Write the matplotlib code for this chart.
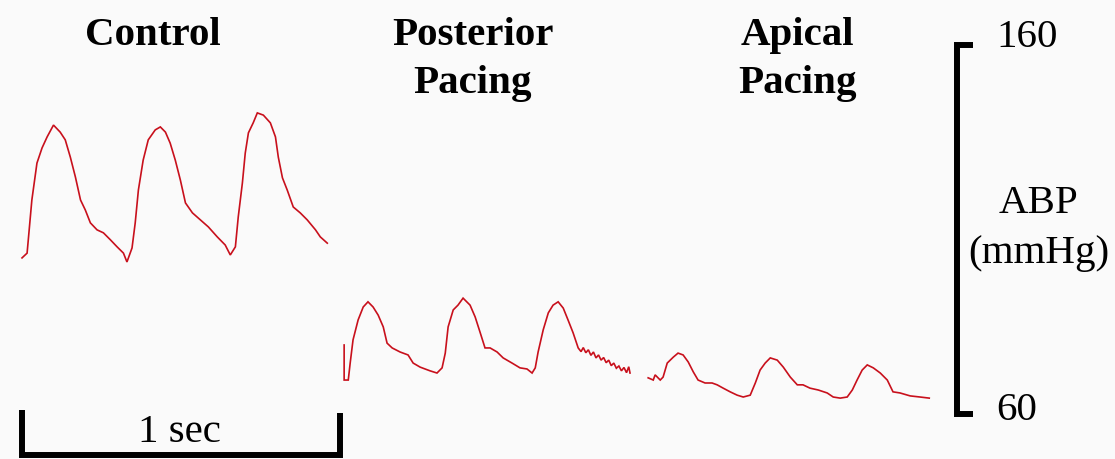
"""Arterial blood pressure traces: control vs posterior / apical pacing."""
import matplotlib
matplotlib.use("Agg")
import matplotlib.pyplot as plt

# ---- data (time in s from the start of each trace, pressure in mmHg) ----
control_t = [0.000, 0.016, 0.031, 0.047, 0.063, 0.079, 0.099, 0.120, 0.136, 0.152,
             0.168, 0.184, 0.199, 0.215, 0.236, 0.256, 0.278, 0.299, 0.319, 0.330,
             0.346, 0.356, 0.366, 0.381, 0.397, 0.419, 0.435, 0.451, 0.466, 0.482,
             0.498, 0.514, 0.536, 0.561, 0.586, 0.614, 0.639, 0.655, 0.671, 0.680,
             0.693, 0.702, 0.712, 0.727, 0.740, 0.759, 0.781, 0.797, 0.806, 0.819,
             0.834, 0.853, 0.875, 0.897, 0.923, 0.938, 0.960]
control_p = [102.3, 103.6, 118.0, 128.0, 132.1, 135.1, 138.3, 136.4, 134.3, 129.6,
             124.2, 118.0, 115.3, 111.8, 109.9, 109.1, 107.2, 105.3, 103.6, 101.2,
             105.0, 111.8, 120.7, 128.8, 134.3, 137.0, 137.8, 136.4, 133.4, 128.8,
             123.4, 117.2, 114.5, 112.6, 110.7, 108.0, 105.8, 103.1, 105.3, 113.4,
             122.6, 130.7, 136.2, 138.9, 141.6, 141.0, 138.9, 135.1, 129.6, 124.0,
             120.7, 116.1, 114.5, 112.6, 109.9, 108.0, 106.3]

posterior_t = [0.000, 0.000, 0.013, 0.019, 0.028, 0.044, 0.060, 0.075, 0.091, 0.107,
               0.123, 0.135, 0.151, 0.176, 0.201, 0.217, 0.239, 0.270, 0.292, 0.308,
               0.318, 0.327, 0.343, 0.358, 0.374, 0.396, 0.412, 0.428, 0.443, 0.459,
               0.481, 0.500, 0.528, 0.553, 0.575, 0.591, 0.601, 0.610, 0.626, 0.642,
               0.657, 0.673, 0.689, 0.704, 0.720, 0.736, 0.745, 0.752, 0.760, 0.768,
               0.776, 0.784, 0.792, 0.800, 0.808, 0.816, 0.824, 0.832, 0.840, 0.848,
               0.856, 0.864, 0.872, 0.880, 0.888, 0.895, 0.899]
posterior_p = [78.7, 69.2, 69.2, 73.8, 80.1, 85.5, 89.0, 90.4, 89.0, 86.8,
               83.6, 79.2, 77.9, 76.8, 76.0, 73.8, 72.7, 71.7, 71.1, 72.5,
               76.5, 83.6, 88.2, 89.5, 91.4, 89.5, 86.3, 82.0, 77.9, 77.9,
               76.8, 75.2, 73.8, 72.5, 72.2, 71.1, 72.5, 76.8, 82.8, 87.4,
               89.5, 90.4, 88.7, 85.5, 82.0, 77.9, 76.9, 78.0, 76.6, 77.4,
               75.9, 76.8, 75.2, 76.0, 74.6, 75.3, 73.9, 74.6, 73.1, 73.8,
               72.4, 73.0, 71.7, 72.6, 71.2, 72.8, 71.1]

apical_t = [0.000, 0.016, 0.022, 0.038, 0.047, 0.060, 0.079, 0.094, 0.110, 0.126,
            0.142, 0.157, 0.179, 0.201, 0.217, 0.236, 0.258, 0.280, 0.299, 0.321,
            0.337, 0.352, 0.368, 0.384, 0.406, 0.425, 0.447, 0.469, 0.487, 0.509,
            0.535, 0.563, 0.582, 0.604, 0.626, 0.642, 0.657, 0.673, 0.689, 0.708,
            0.730, 0.752, 0.770, 0.792, 0.824, 0.855, 0.884]
apical_p = [69.8, 69.2, 70.6, 69.2, 70.0, 73.8, 75.4, 76.5, 76.0, 74.1,
            71.4, 69.2, 68.4, 68.4, 67.9, 67.0, 66.0, 65.1, 64.6, 65.1,
            68.4, 71.9, 73.8, 75.2, 74.6, 72.7, 70.0, 67.9, 67.9, 67.0,
            66.5, 65.7, 64.6, 64.3, 64.6, 66.5, 69.2, 71.9, 73.3, 72.5,
            71.1, 69.2, 66.0, 65.7, 64.9, 64.6, 64.3]

# where each trace starts along the shared time axis (s)
trace_start = [0.0, 1.013, 1.969]
traces = [(control_t, control_p), (posterior_t, posterior_p), (apical_t, apical_p)]
titles = [["Control"], ["Posterior", "Pacing"], ["Apical", "Pacing"]]
title_x = [0.412, 1.418, 2.440]

ABP_MIN, ABP_MAX = 60, 160

RED = "#c8101c"
FONT = "Liberation Serif"
FS = 29.5

fig = plt.figure(figsize=(11.15, 4.59), dpi=100, facecolor="#fafafa")
ax = fig.add_axes([0, 0, 1, 1])
ax.set_facecolor("#fafafa")
ax.set_xlim(-0.0692, 3.4371)
ax.set_ylim(47.8, 172.2)
ax.axis("off")

for (t, p), t0 in zip(traces, trace_start):
    ax.plot([v + t0 for v in t], p, color=RED, lw=1.2, solid_joinstyle="miter")

# panel titles, one line at a time (baseline of each line)
for lines, x in zip(titles, title_x):
    for line, y in zip(lines, [160.0, 147.0]):
        ax.text(x, y, line, ha="center", va="baseline", fontsize=FS,
                fontweight="bold", family=FONT)

# pressure scale bar
ax.plot([2.99, 2.94, 2.94, 2.99], [ABP_MAX, ABP_MAX, ABP_MIN, ABP_MIN],
        color="black", lw=4.3, solid_joinstyle="miter", solid_capstyle="butt")
ax.text(3.065, 159.5, f"{ABP_MAX}", ha="left", va="baseline", fontsize=FS, family=FONT)
ax.text(3.065, 58.3, f"{ABP_MIN}", ha="left", va="baseline", fontsize=FS, family=FONT)
ax.text(3.198, 114.6, "ABP", ha="center", va="baseline", fontsize=FS, family=FONT)
ax.text(3.198, 101.0, "(mmHg)", ha="center", va="baseline", fontsize=FS, family=FONT)

# time scale bar
ax.plot([0.0, 0.0, 1.0, 1.0], [61.2, 48.9, 48.9, 60.2],
        color="black", lw=4.3, solid_joinstyle="miter", solid_capstyle="butt")
ax.text(0.494, 52.4, "1 sec", ha="center", va="baseline", fontsize=FS, family=FONT)

fig.savefig("out.png", dpi=100, facecolor=fig.get_facecolor())
